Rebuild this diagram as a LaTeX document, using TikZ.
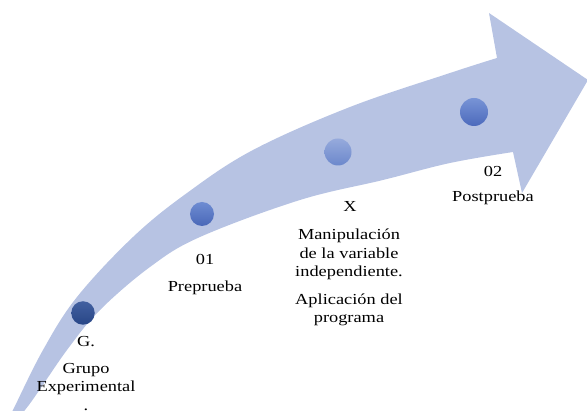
\documentclass[tikz,border=0pt]{standalone}
\usepackage{fontspec}
\setmainfont{Liberation Serif}[FakeStretch=1.2]
\begin{document}
\begin{tikzpicture}[x=1pt,y=-1pt,
  lbl/.style={anchor=base,inner sep=0pt,font=\fontsize{15.3}{18.4}\selectfont},
  dot/.style={circle,inner sep=0pt}]
\definecolor{arrowfill}{HTML}{B7C3E3}
\useasboundingbox (0,0) rectangle (587,411);
\clip (0,0) rectangle (587,411);
% arrow
\fill[arrowfill]
  plot[smooth,tension=0.6] coordinates {(6,424) (13,410) (43,350) (77,297) (133,237) (187,193) (253,150) (350,107) (450,73) (497,58)}
  -- (489,13) -- (588,80) -- (522,193) -- (513,152)
  -- plot[smooth,tension=0.6] coordinates {(513,152) (450,163) (383,180) (300,200) (200,237) (150,267) (100,310) (67,350) (25,410) (6,424)}
  -- cycle;
% dots
\node[dot,minimum size=23.5pt,top color={rgb,255:red,66;green,96;blue,160},bottom color={rgb,255:red,40;green,70;blue,135}] (dG) at (83,313) {};
\node[dot,minimum size=24pt,top color={rgb,255:red,110;green,140;blue,210},bottom color={rgb,255:red,74;green,104;blue,184}] (d1) at (202,214) {};
\node[dot,minimum size=27pt,top color={rgb,255:red,150;green,170;blue,220},bottom color={rgb,255:red,108;green,136;blue,204}] (dX) at (338,152) {};
\node[dot,minimum size=28pt,top color={rgb,255:red,120;green,148;blue,214},bottom color={rgb,255:red,76;green,106;blue,188}] (d2) at (474,112) {};
% labels
\node[lbl] (tG) at (86,347) {G.};
\node[lbl] (tG1) at (86,373.3) {Grupo};
\node[lbl] (tG2) at (86,391.7) {Experimental};
\node[lbl] (tG3) at (86,410.3) {.};
\node[lbl] (t1) at (205,265) {01};
\node[lbl] (t1a) at (205,291.7) {Preprueba};
\node[lbl] (tX) at (350,211.7) {X};
\node[lbl] (tXa) at (349,240) {Manipulación};
\node[lbl] (tXb) at (349,258.3) {de la variable};
\node[lbl] (tXc) at (349,276.7) {independiente.};
\node[lbl] (tXd) at (349,305) {Aplicación del};
\node[lbl] (tXe) at (349,323) {programa};
\node[lbl] (t2) at (493,176.7) {02};
\node[lbl] (t2a) at (493,201.7) {Postprueba};
\end{tikzpicture}
\end{document}
